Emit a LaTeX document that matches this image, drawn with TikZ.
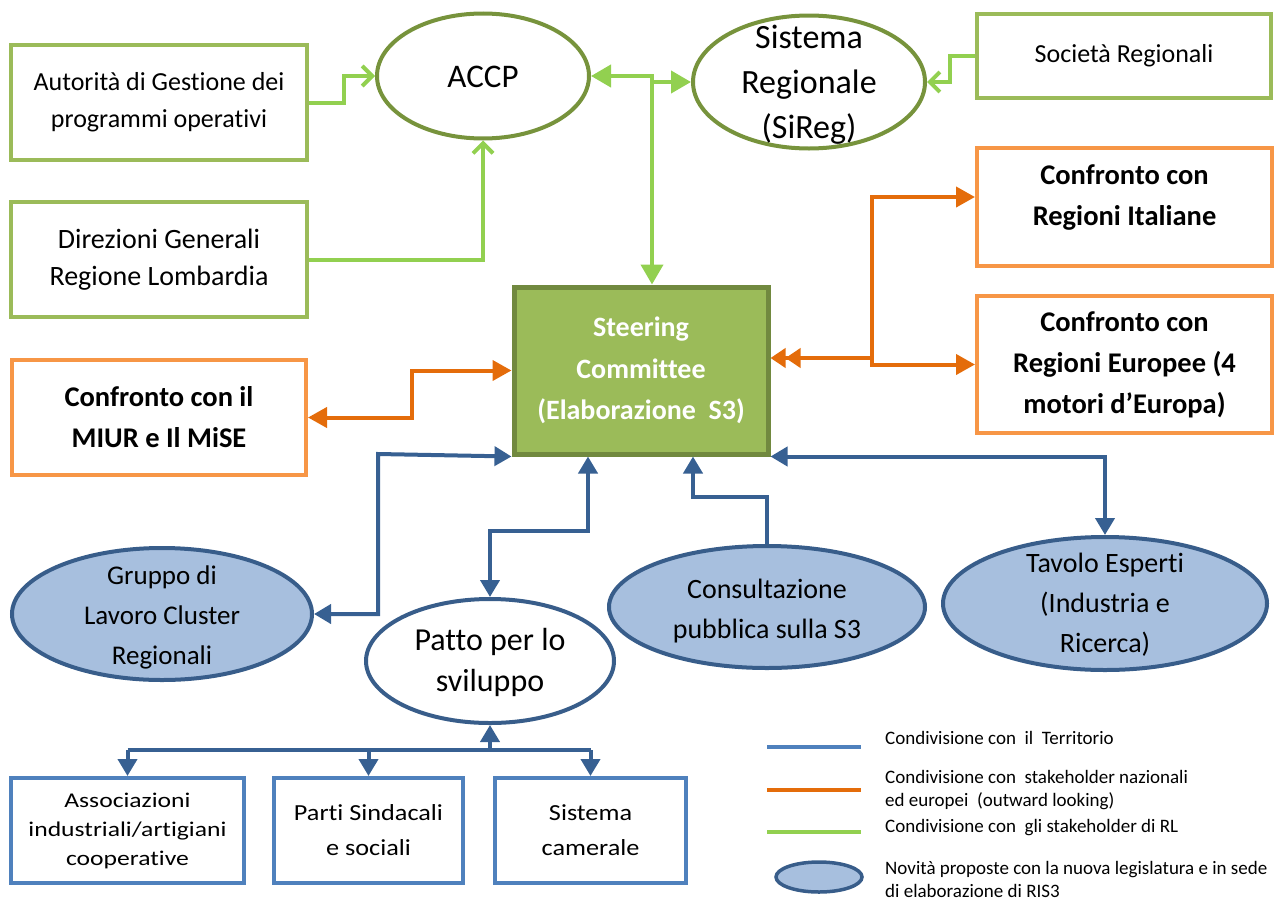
\documentclass[tikz,border=0pt]{standalone}
\usepackage{fontspec}
\setmainfont{Carlito}[Ligatures=NoCommon]
\newfontfamily\stretchA[FakeStretch=1.22,Ligatures=NoCommon]{Carlito}
\newfontfamily\stretchB[FakeStretch=1.14,Ligatures=NoCommon]{Carlito}
\usetikzlibrary{shapes.geometric,arrows.meta}
\definecolor{boxgreen}{HTML}{9BBB59}
\definecolor{stborder}{HTML}{71893F}
\definecolor{ellgreen}{HTML}{77933C}
\definecolor{lgreen}{HTML}{92D050}
\definecolor{orbox}{HTML}{F79646}
\definecolor{orline}{HTML}{E46C0A}
\definecolor{bfill}{HTML}{A7BFDE}
\definecolor{bborder}{HTML}{385D8A}
\definecolor{blline}{HTML}{376092}
\definecolor{bluebox}{HTML}{4F81BD}
\tikzset{
  GT/.tip={Triangle[length=20pt,width=22pt]},
  OT/.tip={Triangle[length=19pt,width=20pt]},
  BT/.tip={Triangle[length=17pt,width=19pt]},
  GB/.tip={Straight Barb[length=10pt,width=20pt]},
  gbox/.style={draw=boxgreen, line width=4pt, rectangle, inner sep=0pt, align=center},
  obox/.style={draw=orbox, line width=4pt, rectangle, inner sep=0pt, align=center,
    font=\bfseries\fontsize{28.5pt}{41pt}\selectfont},
  bbox/.style={draw=bluebox, line width=4pt, rectangle, inner sep=0pt, align=center},
  gell/.style={ellipse, draw=ellgreen, line width=4pt, fill=white, inner sep=0pt},
  bell/.style={ellipse, draw=bborder, line width=4pt, fill=bfill, inner sep=0pt},
  wbell/.style={ellipse, draw=bborder, line width=4pt, fill=white, inner sep=0pt},
  etext/.style={align=center, inner sep=0pt, font=\fontsize{28pt}{40pt}\selectfont},
  legtext/.style={align=left, inner sep=0pt, anchor=west, font=\fontsize{19pt}{23pt}\selectfont},
  gline/.style={draw=lgreen, line width=4pt},
  oline/.style={draw=orline, line width=4pt},
  bline/.style={draw=blline, line width=4pt},
}
\begin{document}
\begin{tikzpicture}[x=1pt,y=-1pt]
\useasboundingbox (0,0) rectangle (1276,902);

% ---- green boxes
\node[gbox, minimum width=296pt, minimum height=115pt, font=\fontsize{26pt}{37pt}\selectfont] (auto) at (159,102.5) {Autorità di Gestione dei\\programmi operativi};
\node[gbox, minimum width=296pt, minimum height=115pt, font=\fontsize{28pt}{37pt}\selectfont] (dir) at (159,259.5) {Direzioni Generali\\Regione Lombardia};
\node[gbox, minimum width=294pt, minimum height=84pt, font=\fontsize{26pt}{30pt}\selectfont] (soc) at (1124,56) {Società Regionali};

% ---- green ellipses
\node[gell, minimum width=212pt, minimum height=125pt] (accp) at (483,76) {};
\node[inner sep=0pt, font=\fontsize{33pt}{40pt}\selectfont] (accpT) at (483,77) {ACCP};
\node[gell, minimum width=232pt, minimum height=133pt] (sireg) at (809,82) {};
\node[align=center, inner sep=0pt, font=\fontsize{34pt}{45pt}\selectfont] (siregT) at (809,85) {Sistema\\Regionale\\(SiReg)};

% ---- orange boxes
\node[obox, minimum width=295pt, minimum height=118pt] (ital) at (1124.5,207) {};
\node[align=center, inner sep=0pt, font=\bfseries\fontsize{28.5pt}{41pt}\selectfont] (italT) at (1124.5,198) {Confronto con\\Regioni Italiane};
\node[obox, minimum width=295pt, minimum height=137pt] (eur) at (1124.5,364.5) {Confronto con\\Regioni Europee (4\\motori d’Europa)};
\node[obox, minimum width=294pt, minimum height=115pt] (miur) at (159,417.5) {Confronto con il\\MIUR e Il MiSE};

% ---- steering committee
\node[draw=stborder, fill=boxgreen, line width=5pt, minimum width=254pt, minimum height=167pt, inner sep=0pt, align=center, text=white, font=\bfseries\fontsize{28pt}{41.5pt}\selectfont] (steer) at (641,370.5) {Steering\\Committee\\(Elaborazione\ \ S3)};

% ---- blue ellipses
\node[bell, minimum width=300pt, minimum height=132pt] (gruppo) at (162,614) {};
\node[etext, font=\fontsize{27pt}{40pt}\selectfont] (gruppoT) at (162,617.5) {Gruppo di\\Lavoro Cluster\\Regionali};
\node[wbell, minimum width=248pt, minimum height=124pt] (patto) at (490,661) {};
\node[etext, font=\fontsize{32pt}{41pt}\selectfont] (pattoT) at (490,662) {Patto per lo\\sviluppo};
\node[bell, minimum width=316pt, minimum height=122pt] (cons) at (767,607) {};
\node[etext] (consT) at (767,611) {Consultazione\\pubblica sulla S3};
\node[bell, minimum width=324pt, minimum height=133pt] (tav) at (1105,603.5) {};
\node[etext] (tavT) at (1105,605) {Tavolo Esperti\\(Industria e\\Ricerca)};

% ---- bottom blue boxes
\node[bbox, minimum width=233pt, minimum height=105pt, font=\stretchA\fontsize{21pt}{29pt}\selectfont] (assoc) at (127.5,830.5) {Associazioni\\industriali/artigiani\\cooperative};
\node[bbox, minimum width=189pt, minimum height=105pt, font=\stretchB\fontsize{23pt}{35pt}\selectfont] (parti) at (368.5,830.5) {Parti Sindacali\\e sociali};
\node[bbox, minimum width=191pt, minimum height=105pt, font=\stretchB\fontsize{23pt}{35pt}\selectfont] (sisc) at (590.5,830.5) {Sistema\\camerale};

% ---- green connectors
\draw[gline, -{GB}] (auto.east) -- ++(35,0) |- (accp.west);
\draw[gline, -{GB}] (dir.east) -| (accp.south);
\coordinate (gj) at (652,76);
\draw[gline, {GT}-{GT}] (accp.east) -- (gj) -- (gj |- steer.north);
\draw[gline, -{GT}] ([yshift=-6pt]gj) -- (sireg.west);
\draw[gline, -{GB}] (soc.west) -- ++(-25,0) |- (sireg.east);

% ---- orange connectors
\coordinate (oj) at (872,358);
\draw[oline, {Triangle[length=15pt,width=19pt]Triangle[length=15pt,width=19pt]}-{OT}] ([yshift=12.5pt]steer.east) -- (oj) |- ([yshift=10pt]ital.west);
\draw[oline, -{OT}] (oj) |- (eur.west);
\draw[oline, {OT}-{OT}] (miur.east) -- ++(104,0) |- (steer.west);

% ---- blue connectors
\coordinate (bj1) at (378,454);
\draw[bline, {BT}-{BT}] (steer.south west) -- (bj1) |- (gruppo.east);
\draw[bline, {BT}-{BT}] ([xshift=-53pt]steer.south) -- ++(0,74) -| (patto.north);
\draw[bline, -{BT}] (cons.north) -- ++(0,-47) -| ([xshift=52pt]steer.south);
\draw[bline, {BT}-{BT}] (steer.south east) -| (tav.north);
\coordinate (bus) at (490,750);
\draw[bline, -{BT}] (bus) -- (patto.south);
\draw[bline] (assoc.north |- bus) -- (sisc.north |- bus);
\draw[bline, -{BT}] (assoc.north |- bus) -- (assoc.north);
\draw[bline, -{BT}] (parti.north |- bus) -- (parti.north);
\draw[bline, -{BT}] (sisc.north |- bus) -- (sisc.north);

% ---- legend
\coordinate (l1a) at (767,747); \coordinate (l1b) at (861,747);
\coordinate (l2a) at (767,790); \coordinate (l2b) at (861,790);
\coordinate (l3a) at (767,832); \coordinate (l3b) at (861,832);
\draw[line width=4pt, draw=bluebox] (l1a) -- (l1b);
\draw[line width=4pt, draw=orline] (l2a) -- (l2b);
\draw[line width=4pt, draw=lgreen] (l3a) -- (l3b);
\node[bell, minimum width=86pt, minimum height=30pt, line width=3.5pt] (legE) at (819,877) {};
\node[legtext] (lt1) at (885,738) {Condivisione con\ \ il\ \ Territorio};
\node[legtext] (lt2) at (885,790.5) {Condivisione con\ \ stakeholder nazionali\\ed europei\ \ (outward looking)};
\node[legtext] (lt3) at (885,828) {Condivisione con\ \ gli stakeholder di RL};
\node[legtext] (lt4) at (885,879) {Novità proposte con la nuova legislatura e in sede\\di elaborazione di RIS3};
\end{tikzpicture}
\end{document}
